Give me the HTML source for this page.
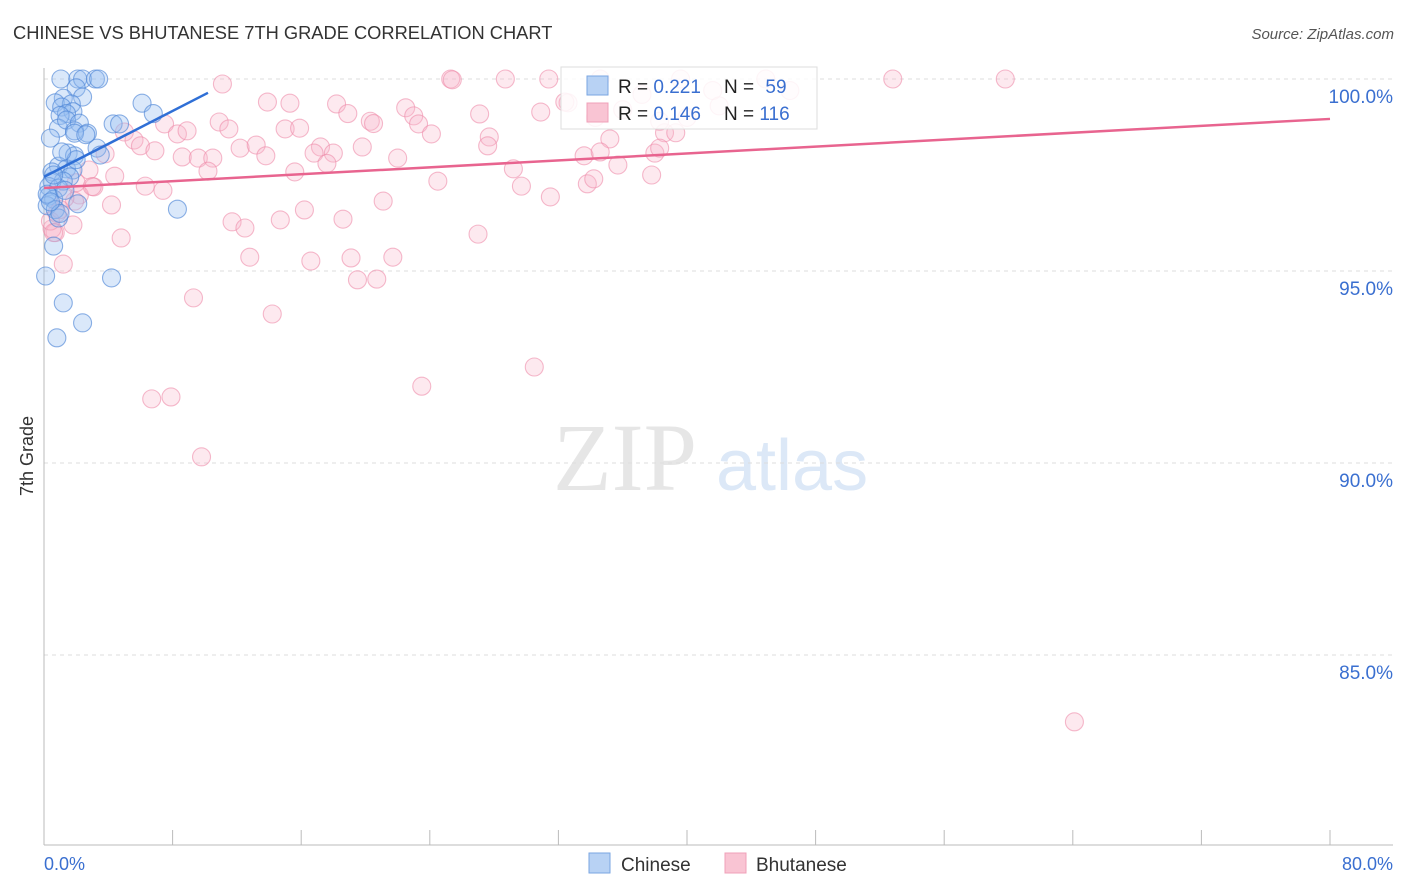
<!DOCTYPE html>
<html><head><meta charset="utf-8"><style>
body{margin:0;background:#fff;width:1406px;height:892px;overflow:hidden;font-family:"Liberation Sans",sans-serif}
svg{display:block}
</style></head><body>
<svg id="chart" width="1406" height="892" xmlns="http://www.w3.org/2000/svg">
<text x="13" y="39" font-size="18.3" fill="#333">CHINESE VS BHUTANESE 7TH GRADE CORRELATION CHART</text>
<text x="1394" y="39" font-size="15" fill="#555" font-style="italic" text-anchor="end">Source: ZipAtlas.com</text>
<g>
<text x="553" y="490" font-size="96" font-family="Liberation Serif,serif" fill="#e6e6e6">ZIP</text>
<text x="716" y="490" font-size="72" fill="#dce8f7">atlas</text>
</g>
<g id="grid"></g>
<g id="axes"></g>
<g id="pink"></g>
<g id="blue"></g>
<g id="lines"></g>
<g>
<rect x="561" y="67" width="256" height="62" fill="#fff" fill-opacity="0.85" stroke="#ddd"/>
<rect x="587" y="76" width="21" height="19" fill="#b8d2f4" stroke="#7aa6e2"/>
<rect x="587" y="103" width="21" height="19" fill="#f9c4d3" stroke="#f0a0b8"/>
<text x="618" y="93" font-size="19" fill="#222">R = <tspan fill="#3a6fd0">0.221</tspan></text>
<text x="724" y="93" font-size="19" fill="#222">N = <tspan fill="#3a6fd0" dx="6">59</tspan></text>
<text x="618" y="120" font-size="19" fill="#222">R = <tspan fill="#3a6fd0">0.146</tspan></text>
<text x="724" y="120" font-size="19" fill="#222">N = <tspan fill="#3a6fd0">116</tspan></text>
</g>
<g>
<rect x="589" y="853" width="21" height="20" fill="#b8d2f4" stroke="#7aa6e2"/>
<text x="621" y="871" font-size="19" fill="#333">Chinese</text>
<rect x="725" y="853" width="21" height="20" fill="#f9c4d3" stroke="#f0a0b8"/>
<text x="756" y="871" font-size="19" fill="#333">Bhutanese</text>
</g>
<text transform="translate(33,456) rotate(-90)" font-size="18" fill="#333" text-anchor="middle">7th Grade</text>
</svg>
<script>
const yTicks=[100,95,90,85];
const yTickLabels=["100.0%","95.0%","90.0%","85.0%"];
const xTickLabels=["0.0%","80.0%"];
const chineseX=[1.05,2.1,2.4,3.2,3.4,2.0,2.4,1.2,0.7,1.7,1.1,1.8,1.4,1.0,0.9,1.4,2.2,1.9,2.7,1.9,6.1,6.8,4.3,4.7,0.4,3.3,3.5,1.5,1.9,0.9,1.4,1.8,0.5,1.6,1.2,0.5,0.3,0.9,0.3,0.6,0.2,0.7,2.1,0.9,8.3,0.6,0.1,4.2,1.2,2.4,0.8,0.2,1.0,2.6,0.4,1.3,0.6,2.0,1.1];
const chineseY=[100,100,100,100,100,99.77,99.53,99.5,99.38,99.35,99.27,99.15,99.1,99.05,98.72,98.93,98.85,98.65,98.59,98.59,99.37,99.1,98.83,98.83,98.46,98.2,98.02,98.07,98.0,97.73,97.66,97.63,97.58,97.45,97.34,97.34,97.2,97.16,96.95,96.87,96.7,96.6,96.75,96.38,96.61,95.65,94.87,94.82,94.17,93.65,93.26,97.0,96.5,98.55,96.8,97.1,97.5,97.9,98.1];
const bhutaneseX=[11.1,25.3,25.4,28.7,31.4,52.8,59.8,13.9,15.3,18.2,22.5,18.9,23.0,27.1,30.9,32.6,10.9,7.5,20.3,20.5,23.3,11.5,15.0,15.9,5.0,8.3,8.9,24.1,27.7,35.2,38.6,39.3,5.6,6.0,6.9,12.2,13.2,17.2,19.8,27.6,3.8,8.6,9.6,10.5,13.8,16.8,18.0,22.0,33.6,34.6,38.0,38.3,17.6,10.2,15.6,29.2,35.7,2.8,4.4,37.8,24.5,29.7,33.8,34.2,6.3,7.4,3.1,2.2,31.5,21.1,4.2,1.9,16.2,11.7,12.5,14.7,18.6,27.0,4.8,1.8,0.7,0.5,1.2,12.8,16.6,19.1,21.7,19.5,20.7,9.3,14.2,30.5,23.5,6.7,7.9,9.8,64.1,34.6,39.6,41.6,44.9,46.4,37.2,34.3,38.3,0.8,0.4,1.3,2.0,0.6,36.0,32.4,40.0,42.0,1.0,3.0];
const bhutaneseY=[99.87,100,99.98,100,100,100,100,99.4,99.37,99.35,99.25,99.1,99.04,99.09,99.14,99.38,98.88,98.83,98.9,98.84,98.83,98.7,98.7,98.72,98.62,98.57,98.65,98.57,98.49,98.44,98.6,98.6,98.41,98.26,98.13,98.2,98.28,98.23,98.23,98.26,98.05,97.97,97.94,97.94,98.0,98.07,98.07,97.94,98.0,98.1,98.07,98.2,97.8,97.6,97.58,97.66,97.76,97.63,97.47,97.5,97.34,97.21,97.27,97.4,97.21,97.1,97.19,96.98,96.93,96.82,96.72,96.82,96.59,96.28,96.12,96.33,96.35,95.96,95.86,96.2,96.0,96.1,95.18,95.36,95.26,95.34,95.36,94.77,94.79,94.3,93.88,92.5,92.0,91.67,91.72,90.16,83.26,100,100,99.7,100,99.7,99.6,99.0,98.9,96.5,96.3,96.9,97.3,96.0,99.2,99.4,99.0,99.3,96.6,97.2];
const chineseTrend=[[0,97.45],[10.2,99.64]];
const bhutaneseTrend=[[0,97.16],[80,98.96]];
const NS="http://www.w3.org/2000/svg";
const X0=44,X1=1330,Y100=79,PX=38.4;
function xs(v){return X0+(X1-X0)*v/80;}
function ys(v){return Y100+(100-v)*PX;}
function mk(tag,attrs,parent){const e=document.createElementNS(NS,tag);for(const k in attrs)e.setAttribute(k,attrs[k]);parent.appendChild(e);return e;}
const grid=document.getElementById('grid'),axes=document.getElementById('axes');
yTicks.forEach((t,i)=>{
 const l=mk('line',{x1:X0,x2:1393,y1:ys(t),y2:ys(t),stroke:'#ddd','stroke-dasharray':'4,4'},grid);
 
 
 const tx=mk('text',{x:1393,y:ys(t)+24,'font-size':19,fill:'#3a6fd0','text-anchor':'end'},axes);
 tx.textContent=yTickLabels[i];
 
 
});
mk('line',{x1:X0,x2:X0,y1:68,y2:845,stroke:'#bbb'},axes);
mk('line',{x1:X0,x2:1393,y1:845,y2:845,stroke:'#bbb'},axes);
for(let i=0;i<=10;i++){
 const t=mk('line',{x1:xs(i*8),x2:xs(i*8),y1:830,y2:845,stroke:'#bbb'},axes);
 
 
}
const xl0=mk('text',{x:44,y:870,'font-size':18,fill:'#3a6fd0'},axes);xl0.textContent=xTickLabels[0];


const xl1=mk('text',{x:1393,y:870,'font-size':18,fill:'#3a6fd0','text-anchor':'end'},axes);xl1.textContent=xTickLabels[1];


function pts(xa,ya,g,fill,stroke){xa.forEach((x,i)=>{
 const c=mk('circle',{cx:xs(x),cy:ys(ya[i]),r:9,fill:fill,stroke:stroke,'stroke-width':1.1},g);
 
 
});}
pts(bhutaneseX,bhutaneseY,document.getElementById('pink'),'rgba(248,182,202,0.3)','rgba(238,140,170,0.6)');
pts(chineseX,chineseY,document.getElementById('blue'),'rgba(150,190,240,0.35)','rgba(80,135,215,0.65)');
const lg=document.getElementById('lines');
const lb=mk('line',{x1:xs(chineseTrend[0][0]),y1:ys(chineseTrend[0][1]),x2:xs(chineseTrend[1][0]),y2:ys(chineseTrend[1][1]),stroke:'#2f6fd6','stroke-width':2.5},lg);


const lp=mk('line',{x1:xs(bhutaneseTrend[0][0]),y1:ys(bhutaneseTrend[0][1]),x2:xs(bhutaneseTrend[1][0]),y2:ys(bhutaneseTrend[1][1]),stroke:'#e8648f','stroke-width':2.5},lg);


</script>
</body></html>
